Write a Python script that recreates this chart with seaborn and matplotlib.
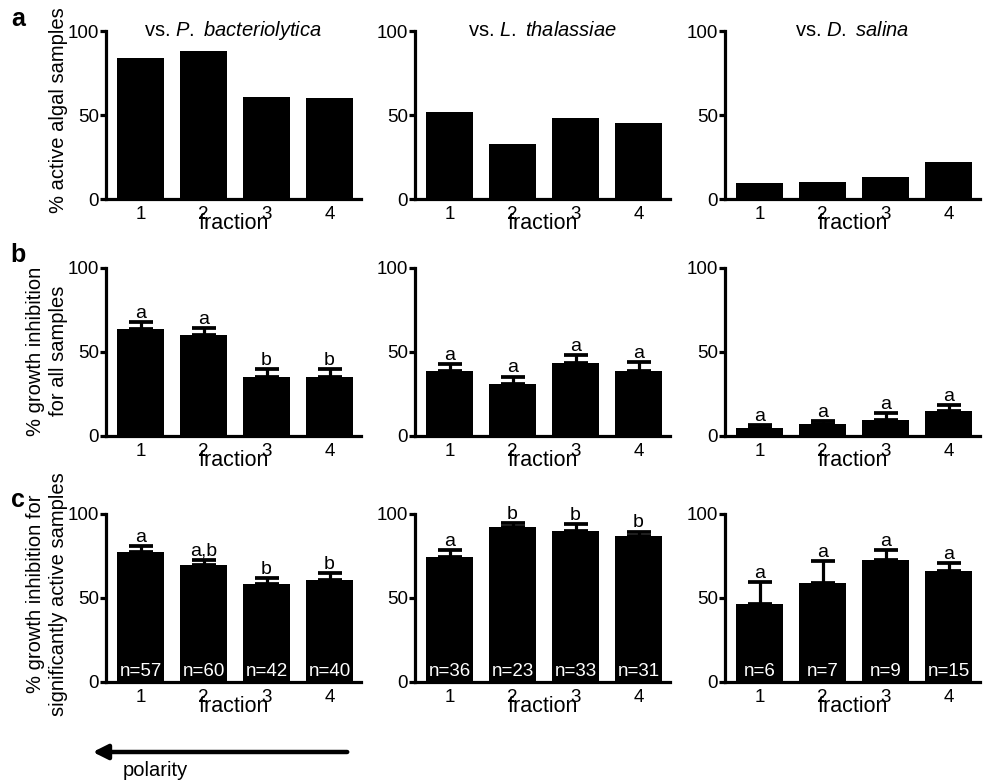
import numpy as np
import matplotlib
matplotlib.use("Agg")
import matplotlib.pyplot as plt
import seaborn as sns

# fractions on the x axis
fractions = ["1", "2", "3", "4"]

# titles of the three columns (algae)
titles = ["vs. $\\it{P.\\ bacteriolytica}$", "vs. $\\it{L.\\ thalassiae}$", "vs. $\\it{D.\\ salina}$"]

# row a: % active algal samples
active_pb = [84, 88, 61, 60]
active_lt = [52, 33, 48, 45]
active_ds = [9.5, 10, 13, 22]

# row b: % growth inhibition for all samples (mean, upper SEM)
all_pb = [63.5, 60, 35.3, 35.3]
all_pb_err = [4.4, 4.1, 4.3, 4.3]
all_lt = [38.9, 31.0, 43.6, 38.9]
all_lt_err = [3.9, 4.3, 4.6, 5.1]
all_ds = [4.6, 6.9, 9.6, 14.8]
all_ds_err = [1.9, 2.1, 4.1, 3.6]
all_pb_letters = ["a", "a", "b", "b"]
all_lt_letters = ["a", "a", "a", "a"]
all_ds_letters = ["a", "a", "a", "a"]

# row c: % growth inhibition for significantly active samples
sig_pb = [77.1, 69.6, 58.5, 60.9]
sig_pb_err = [3.6, 2.8, 3.2, 4.0]
sig_lt = [74.3, 92.5, 90.1, 87.2]
sig_lt_err = [4.0, 2.2, 3.7, 2.3]
sig_ds = [46.7, 58.8, 72.4, 66.0]
sig_ds_err = [12.6, 13.0, 5.9, 4.8]
sig_pb_letters = ["a", "a,b", "b", "b"]
sig_lt_letters = ["a", "b", "b", "b"]
sig_ds_letters = ["a", "a", "a", "a"]
sig_pb_n = [57, 60, 42, 40]
sig_lt_n = [36, 23, 33, 31]
sig_ds_n = [6, 7, 9, 15]

sns.set_style("ticks")
plt.rcParams["font.family"] = ["Liberation Sans", "DejaVu Sans"]
plt.rcParams["mathtext.fontset"] = "custom"
plt.rcParams["mathtext.rm"] = "Liberation Sans"
plt.rcParams["mathtext.it"] = "Liberation Sans:italic"
for k in ["text.color", "axes.labelcolor", "xtick.color", "ytick.color", "axes.edgecolor"]:
    plt.rcParams[k] = "black"

FS = 13.5     # tick labels, letters
LFS = 14.5    # axis labels, titles
LW = 2.3

fig = plt.figure(figsize=(9.84, 7.84), dpi=100)

lefts = [106, 415, 725]
bottoms = [199, 436, 682]   # pixel position of y=0 from the top
ax_w, ax_h = 255, 168

rows = [
    dict(vals=[active_pb, active_lt, active_ds], errs=None, letters=None, n=None),
    dict(vals=[all_pb, all_lt, all_ds], errs=[all_pb_err, all_lt_err, all_ds_err],
         letters=[all_pb_letters, all_lt_letters, all_ds_letters], n=None),
    dict(vals=[sig_pb, sig_lt, sig_ds], errs=[sig_pb_err, sig_lt_err, sig_ds_err],
         letters=[sig_pb_letters, sig_lt_letters, sig_ds_letters],
         n=[sig_pb_n, sig_lt_n, sig_ds_n]),
]

for r, row in enumerate(rows):
    for c in range(3):
        ax = fig.add_axes([lefts[c] / 984, 1 - bottoms[r] / 784, ax_w / 984, ax_h / 784])
        vals = row["vals"][c]
        sns.barplot(x=fractions, y=vals, color="black", saturation=1, width=0.75,
                    errorbar=None, linewidth=0, ax=ax)
        x = np.arange(len(fractions))
        if row["errs"] is not None:
            errs = row["errs"][c]
            ax.errorbar(x, vals, yerr=[np.zeros(len(vals)), errs], fmt="none",
                        ecolor="black", elinewidth=LW, capsize=8.3, capthick=LW + 0.4, zorder=5)
            for xi, v, e, lab in zip(x, vals, errs, row["letters"][c]):
                ax.text(xi, v + e + 2.6, lab, ha="center", va="baseline", fontsize=FS + 0.5)
        if row["n"] is not None:
            for xi, nn in zip(x, row["n"][c]):
                ax.text(xi, 6.3, f"n={nn}", ha="center", va="center", color="white",
                        fontsize=FS, zorder=6)
        ax.set_xlim(-0.55, 3.5)
        ax.set_ylim(0, 100)
        ax.set_yticks([0, 50, 100])
        ax.set_xlabel("")
        ax.set_ylabel("")
        sns.despine(ax=ax)
        for s in ["left", "bottom"]:
            ax.spines[s].set_linewidth(LW)
        ax.tick_params(axis="y", length=4, width=LW, pad=1, labelsize=FS)
        ax.tick_params(axis="x", length=0, pad=5, labelsize=FS)
        ax.annotate("fraction", xy=(0.5, 0), xycoords="axes fraction",
                    xytext=(0, -17.5), textcoords="offset points",
                    ha="center", va="center", fontsize=LFS + 1)
        if r == 0:
            ax.text(0.5, 1.0, titles[c], transform=ax.transAxes, ha="center",
                    va="center", fontsize=LFS)

# y labels and panel letters
ylabels = ["% active algal samples", "% growth inhibition\nfor all samples",
           "% growth inhibition for\nsignificantly active samples"]
ylab_x = [59, 47, 47]
ylab_y = [110, 351, 594]
for r in range(3):
    fig.text(ylab_x[r] / 984, 1 - ylab_y[r] / 784, ylabels[r], rotation=90, ha="center",
             va="center", fontsize=LFS, linespacing=1.3)

for lab, yy in zip(["a", "b", "c"], [19, 255, 500]):
    fig.text(18 / 984, 1 - yy / 784, lab, ha="center", va="center", fontsize=18,
             fontweight="bold")

# polarity arrow
fig.add_artist(matplotlib.patches.FancyArrowPatch(
    (350 / 984, 1 - 752 / 784), (90 / 984, 1 - 752 / 784), transform=fig.transFigure,
    arrowstyle="-|>", mutation_scale=22, lw=3.2, color="black"))
fig.text(155 / 984, 1 - 770 / 784, "polarity", ha="center", va="center", fontsize=LFS)

plt.savefig("out.png", dpi=100)
